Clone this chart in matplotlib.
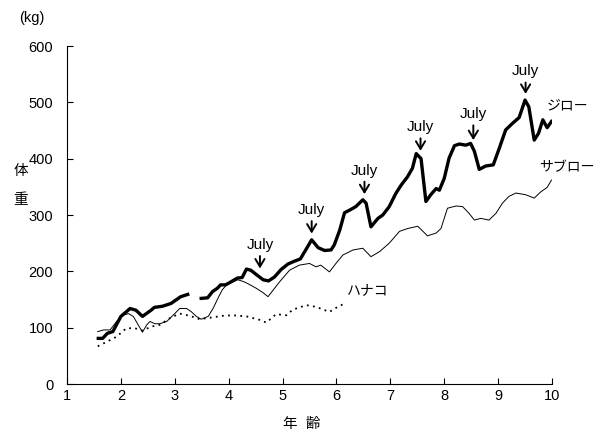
import numpy as np
import matplotlib
matplotlib.use("Agg")
import matplotlib.pyplot as plt

plt.rcParams['font.family'] = ['Liberation Sans', 'Noto Sans CJK JP', 'DejaVu Sans']

# ジロー (太線), 途中に欠測あり
jiro_age = [1.58, 1.66, 1.75, 1.85, 2.0, 2.17, 2.28, 2.40, 2.56, 2.62, 2.77, 2.93, 3.02, 3.11, 3.24,
            np.nan,
            3.49, 3.61, 3.70, 3.79, 3.85, 3.94, 4.0, 4.16, 4.25, 4.33, 4.41, 4.53, 4.64, 4.74,
            4.85, 4.97, 5.10, 5.22, 5.33, 5.43, 5.54, 5.66, 5.78, 5.90, 5.96, 6.06, 6.15, 6.27,
            6.36, 6.49, 6.55, 6.64, 6.77, 6.86, 6.98, 7.10, 7.20, 7.32, 7.41, 7.48, 7.57, 7.66,
            7.75, 7.85, 7.91, 8.0, 8.09, 8.19, 8.28, 8.40, 8.49, 8.56, 8.65, 8.77, 8.91, 9.02,
            9.14, 9.27, 9.39, 9.50, 9.57, 9.67, 9.75, 9.83, 9.91, 9.99]
jiro_kg = [81, 81, 90, 93, 120, 134, 131, 120, 131, 136, 138, 143, 149, 155, 159,
           np.nan,
           152, 153, 164, 170, 176, 176, 179, 188, 189, 204, 202, 193, 185, 183,
           190, 203, 213, 218, 222, 238, 256, 242, 237, 238, 247, 273, 304, 310,
           315, 327, 321, 279, 294, 300, 315, 338, 353, 368, 383, 409, 400, 324,
           336, 347, 344, 365, 401, 423, 426, 424, 427, 413, 381, 387, 389, 418,
           451, 463, 473, 504, 492, 433, 445, 469, 455, 466]

# サブロー (細線)
sabu_age = [1.57, 1.68, 1.80, 1.92, 2.04, 2.14, 2.23, 2.32, 2.40, 2.48, 2.54, 2.63, 2.72, 2.85,
            3.0, 3.09, 3.22, 3.31, 3.40, 3.49, 3.62, 3.71, 3.80, 3.88, 3.96, 4.05, 4.17, 4.27,
            4.36, 4.51, 4.64, 4.73, 4.95, 5.13, 5.31, 5.5, 5.62, 5.71, 5.87, 5.99, 6.12, 6.31,
            6.49, 6.64, 6.80, 6.98, 7.17, 7.32, 7.51, 7.69, 7.85, 7.94, 8.06, 8.22, 8.34, 8.46,
            8.56, 8.68, 8.83, 8.96, 9.08, 9.20, 9.33, 9.51, 9.67, 9.79, 9.91, 9.99]
sabu_kg = [93, 96, 96, 111, 122, 125, 120, 105, 92, 105, 111, 107, 107, 111,
           125, 134, 134, 128, 120, 115, 120, 134, 152, 167, 176, 180, 185, 182,
           178, 170, 162, 155, 182, 202, 211, 214, 208, 211, 199, 214, 229, 238,
           241, 226, 235, 250, 271, 276, 280, 263, 268, 276, 312, 316, 315, 303,
           291, 294, 291, 303, 321, 333, 339, 336, 330, 341, 349, 362]

# ハナコ (点線)
hana_age = [1.57, 1.74, 1.92, 2.10, 2.26, 2.40, 2.57, 2.72, 2.91, 3.09, 3.28, 3.46, 3.68,
            3.89, 4.08, 4.33, 4.57, 4.70, 4.88, 5.07, 5.19, 5.44, 5.62, 5.87, 5.99, 6.15]
hana_kg = [67, 75, 84, 99, 99, 95, 102, 105, 117, 125, 121, 115, 118,
           121, 122, 120, 114, 109, 124, 122, 132, 140, 137, 128, 135, 143]

# July の矢印: (年齢, 矢印先端, 文字の高さ)
july_age = [4.58, 5.54, 6.52, 7.56, 8.54, 9.51]
july_tip = [205, 267, 337, 414, 433, 515]
july_txt = [247, 309, 379, 456, 479, 555]

fig = plt.figure(figsize=(6, 4.34), dpi=100)
ax = fig.add_axes([0.1117, 0.1152, 0.8083, 0.7788])

ax.plot(jiro_age, jiro_kg, color='black', lw=2.4)
ax.plot(sabu_age, sabu_kg, color='black', lw=0.7)
ax.plot(hana_age, hana_kg, color='black', lw=1.3, linestyle=(0, (1, 2.4)))

for a, tip, t in zip(july_age, july_tip, july_txt):
    ax.annotate('July', xy=(a, tip), xytext=(a, t), ha='center', va='center', fontsize=11,
                arrowprops=dict(arrowstyle='->,head_width=0.3,head_length=0.5', lw=1.4,
                                color='black', shrinkA=1, shrinkB=0))

ax.text(9.91, 494, 'ジロー', fontsize=10, va='center', ha='left', clip_on=False)
ax.text(9.76, 385, 'サブロー', fontsize=10, va='center', ha='left', clip_on=False)
ax.text(6.2, 166, 'ハナコ', fontsize=10, va='center', ha='left')

ax.set_xlim(1, 10)
ax.set_ylim(0, 600)
ax.set_xticks(range(1, 11))
ax.set_yticks(range(0, 601, 100))
ax.tick_params(direction='in', length=4, labelsize=10.5, width=0.8)
ax.tick_params(axis='y', pad=10)
for s in ['top', 'right']:
    ax.spines[s].set_visible(False)
for s in ['left', 'bottom']:
    ax.spines[s].set_linewidth(0.8)

fig.text(0.053, 0.958, '(kg)', fontsize=10.5, ha='center', va='center')
fig.text(0.035, 0.605, '体', fontsize=10.5, ha='center', va='center')
fig.text(0.035, 0.540, '重', fontsize=10.5, ha='center', va='center')
fig.text(0.503, 0.022, '年  齢', fontsize=10.5, ha='center', va='center')

fig.savefig('out.png', dpi=100)
